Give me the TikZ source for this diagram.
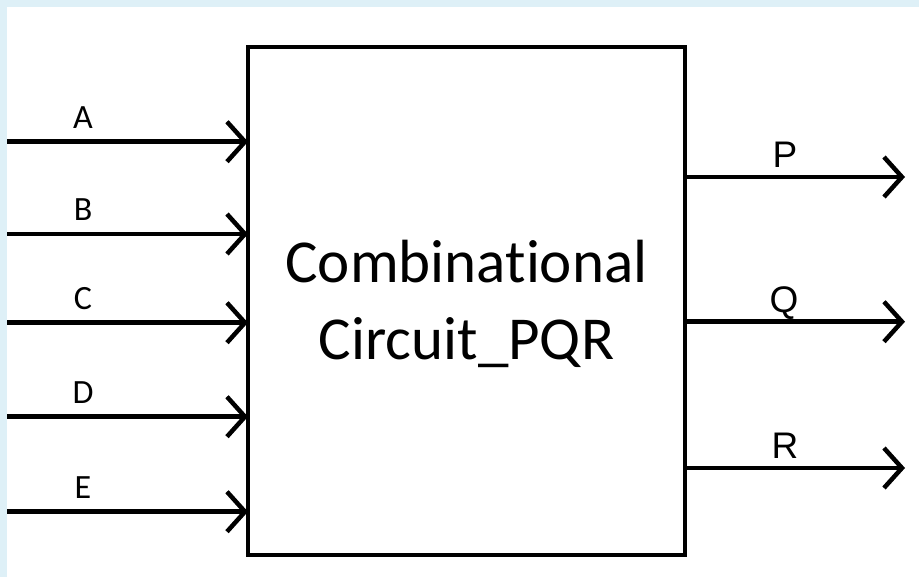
\documentclass[tikz,border=0pt]{standalone}
\usepackage{fontspec}
\setmainfont{Carlito}[Ligatures=NoCommon]
\newfontfamily\outfont{Liberation Sans}
\usetikzlibrary{arrows.meta}
\definecolor{bandblue}{RGB}{222,240,247}
\tikzset{
  wire/.style={line width=4.5pt, -{Straight Barb[length=18pt,width=40pt,line width=4.5pt]}},
  blockbox/.style={draw, line width=4.5pt, outer sep=0pt, minimum width=437pt, minimum height=508pt, inner sep=0pt},
  bigtext/.style={font=\fontsize{61}{73}\selectfont, anchor=base, inner sep=0pt},
  inlabel/.style={font=\fontsize{34}{40}\selectfont, anchor=base, inner sep=0pt},
  outlabel/.style={font=\outfont\fontsize{37}{42}\selectfont, anchor=base, inner sep=0pt}
}
\begin{document}
\begin{tikzpicture}[x=1pt,y=-1pt]
\useasboundingbox (0,0) rectangle (919,577);
\fill[white] (0,0) rectangle (919,577);
\fill[bandblue] (0,0) rectangle (919,7);
\fill[bandblue] (0,0) rectangle (7,577);
\node[blockbox] (box) at (466.5,301) {};
\node[bigtext] (t1) at (466.5,283) {Combinational};
\node[bigtext] (t2) at (466.5,360) {Circuit\_PQR};
% inputs
\coordinate (inA) at (7,141.7);
\coordinate (inB) at (7,234);
\coordinate (inC) at (7,322.7);
\coordinate (inD) at (7,416.7);
\coordinate (inE) at (7,511.7);
\foreach \n in {A,B,C,D,E}{
  \draw[wire] (in\n) -- (box.west |- in\n);
}
\node[inlabel] (lA) at (83,128.2) {A};
\node[inlabel] (lB) at (83,220.5) {B};
\node[inlabel] (lC) at (83,309.2) {C};
\node[inlabel] (lD) at (83,403.2) {D};
\node[inlabel] (lE) at (83,498.2) {E};
% outputs
\coordinate (outP) at (905,177);
\coordinate (outQ) at (905,321.7);
\coordinate (outR) at (905,468);
\foreach \n in {P,Q,R}{
  \draw[wire] (box.east |- out\n) -- (out\n);
}
\node[outlabel] (lP) at (785,167.5) {P};
\node[outlabel] (lQ) at (784,312.2) {Q};
\node[outlabel] (lR) at (785,458.5) {R};
\end{tikzpicture}
\end{document}
